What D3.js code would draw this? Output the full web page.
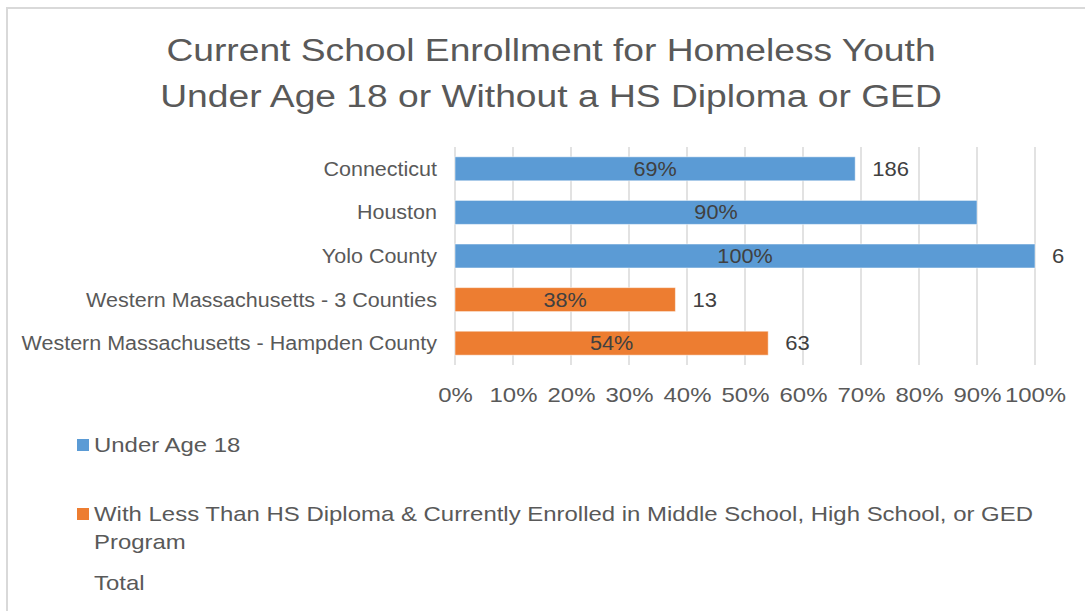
<!DOCTYPE html>
<html>
<head>
<meta charset="utf-8">
<script src="https://cdn.jsdelivr.net/npm/d3@7"></script>
<style>
  html, body { margin: 0; padding: 0; background: #fff; }
  svg { display: block; font-family: "Liberation Sans", Arial, sans-serif; }
</style>
</head>
<body>
<svg id="chart" width="1085" height="611"></svg>
<script>
// Chart data
const titleLines = ["Current School Enrollment for Homeless Youth", "Under Age 18 or Without a HS Diploma or GED"];
const categories = ["Connecticut", "Houston", "Yolo County", "Western Massachusetts - 3 Counties", "Western Massachusetts - Hampden County"];
const shares = [0.69, 0.90, 1.00, 0.38, 0.54];           // share enrolled
const seriesOf = [0, 0, 0, 1, 1];                         // which series each bar belongs to
const totals = ["186", "", "6", "13", "63"];              // respondent totals shown beside bars
const seriesNames = ["Under Age 18",
  "With Less Than HS Diploma & Currently Enrolled in Middle School, High School, or GED Program",
  "Total"];
const tickValues = [0, 0.1, 0.2, 0.3, 0.4, 0.5, 0.6, 0.7, 0.8, 0.9, 1.0];

const colors = ["#5B9BD5", "#ED7D31", null];
const textColor = "#595959";

const svg = d3.select("#chart");

// Widen glyphs a little (the chart font sets wide)
function widen(sel, factor) {
  sel.each(function () {
    const w = this.getComputedTextLength();
    if (w > 0) {
      d3.select(this)
        .attr("textLength", w * factor)
        .attr("lengthAdjust", "spacingAndGlyphs");
    }
  });
}

// Outer chart frame
svg.append("rect")
  .attr("x", 7).attr("y", 8)
  .attr("width", 1100).attr("height", 640)
  .attr("fill", "none").attr("stroke", "#d9d9d9").attr("stroke-width", 2);

// Title
const titleText = svg.append("g")
  .attr("fill", textColor)
  .attr("font-size", 31)
  .selectAll("text").data(titleLines).join("text")
  .attr("text-anchor", "middle")
  .attr("x", 551)
  .attr("y", (d, i) => 61 + i * 46)
  .text(d => d);
widen(titleText, 1.2);

// Scales
const x = d3.scaleLinear().domain([0, 1]).range([455, 1035]);
const y = d3.scaleBand().domain(categories).range([147, 365])
  .paddingInner(0.45).paddingOuter(0.225);

// Vertical gridlines
svg.append("g").selectAll("line").data(tickValues).join("line")
  .attr("x1", d => x(d)).attr("x2", d => x(d))
  .attr("y1", 147).attr("y2", 365)
  .attr("stroke", "#d9d9d9").attr("stroke-width", 1.5);

// Bottom axis labels
const xAxis = svg.append("g")
  .attr("transform", "translate(0,365)")
  .call(d3.axisBottom(x).tickValues(tickValues).tickFormat(d3.format(".0%")).tickSize(0).tickPadding(0));
xAxis.select(".domain").remove();
const xTickText = xAxis.selectAll("text")
  .attr("dy", null).attr("y", 37)
  .attr("font-family", "Liberation Sans, Arial, sans-serif")
  .attr("font-size", 21)
  .attr("fill", textColor);
widen(xTickText, 1.14);

// Category labels
const yAxis = svg.append("g")
  .attr("transform", "translate(437,0)")
  .call(d3.axisLeft(y).tickSize(0).tickPadding(0));
yAxis.select(".domain").remove();
const yTickText = yAxis.selectAll("text")
  .attr("dy", "0.35em")
  .attr("font-family", "Liberation Sans, Arial, sans-serif")
  .attr("font-size", 20)
  .attr("fill", textColor);
widen(yTickText, 1.075);

// Bars
const rows = categories.map((c, i) => ({ c, v: shares[i], s: seriesOf[i], t: totals[i] }));
svg.append("g").selectAll("rect").data(rows).join("rect")
  .attr("x", x(0))
  .attr("y", d => y(d.c))
  .attr("width", d => x(d.v) - x(0))
  .attr("height", y.bandwidth())
  .attr("fill", d => colors[d.s])
  .attr("stroke", "#ffffff").attr("stroke-opacity", 0.5).attr("stroke-width", 1);

// Percent labels inside bars
const pctText = svg.append("g").selectAll("text").data(rows).join("text")
  .attr("x", d => (x(0) + x(d.v)) / 2)
  .attr("y", d => y(d.c) + y.bandwidth() / 2)
  .attr("dy", "0.35em")
  .attr("text-anchor", "middle")
  .attr("font-size", 20)
  .attr("fill", "#404040")
  .text(d => d3.format(".0%")(d.v));
widen(pctText, 1.08);

// Totals beside bars
const totalText = svg.append("g").selectAll("text").data(rows.filter(d => d.t !== "")).join("text")
  .attr("x", d => x(d.v) + 17)
  .attr("y", d => y(d.c) + y.bandwidth() / 2)
  .attr("dy", "0.35em")
  .attr("font-size", 20)
  .attr("fill", "#404040")
  .text(d => d.t);
widen(totalText, 1.1);

// Legend
const legend = svg.append("g").attr("fill", textColor).attr("font-size", 21);
const legendItems = [
  { s: 0, lines: [seriesNames[0]], y: 452 },
  { s: 1, lines: ["With Less Than HS Diploma & Currently Enrolled in Middle School, High School, or GED", "Program"], y: 521 },
  { s: 2, lines: [seriesNames[2]], y: 590 }
];
legendItems.forEach(item => {
  if (colors[item.s]) {
    legend.append("rect")
      .attr("x", 77).attr("y", item.y - 13)
      .attr("width", 12).attr("height", 12)
      .attr("fill", colors[item.s]);
  }
  const lines = legend.selectAll(null).data(item.lines).enter().append("text")
    .attr("x", 94)
    .attr("y", (d, i) => item.y + i * 28)
    .text(d => d);
  widen(lines, 1.14);
});
</script>
</body>
</html>
